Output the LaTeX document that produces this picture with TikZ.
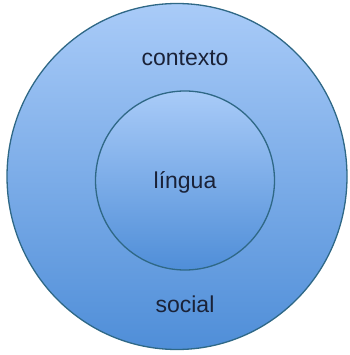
\documentclass[tikz,border=0pt]{standalone}
\usepackage{fontspec}
\setmainfont{Liberation Sans}
\definecolor{edgeblue}{HTML}{2F6886}
\definecolor{topblue}{HTML}{A9CBF8}
\definecolor{botblue}{HTML}{4F8ED8}
\definecolor{txt}{HTML}{1A2238}
\tikzset{
  ring/.style={draw=edgeblue, line width=1.3pt, top color=topblue, bottom color=botblue, shading angle=0},
  lbl/.style={font=\fontsize{23}{26}\selectfont, text=txt, inner sep=0pt}
}
\begin{document}
\begin{tikzpicture}[x=1pt,y=1pt]
\useasboundingbox (0,0) rectangle (349,-355);
\path[ring] (177,-176.5) ellipse [x radius=170, y radius=173];
\path[ring] (185,-180.5) circle [radius=89.5];
\node[lbl] (ctx) at (185,-58) {contexto};
\node[lbl] (lin) at (185,-182) {língua};
\node[lbl] (soc) at (185,-304) {social};
\end{tikzpicture}
\end{document}
